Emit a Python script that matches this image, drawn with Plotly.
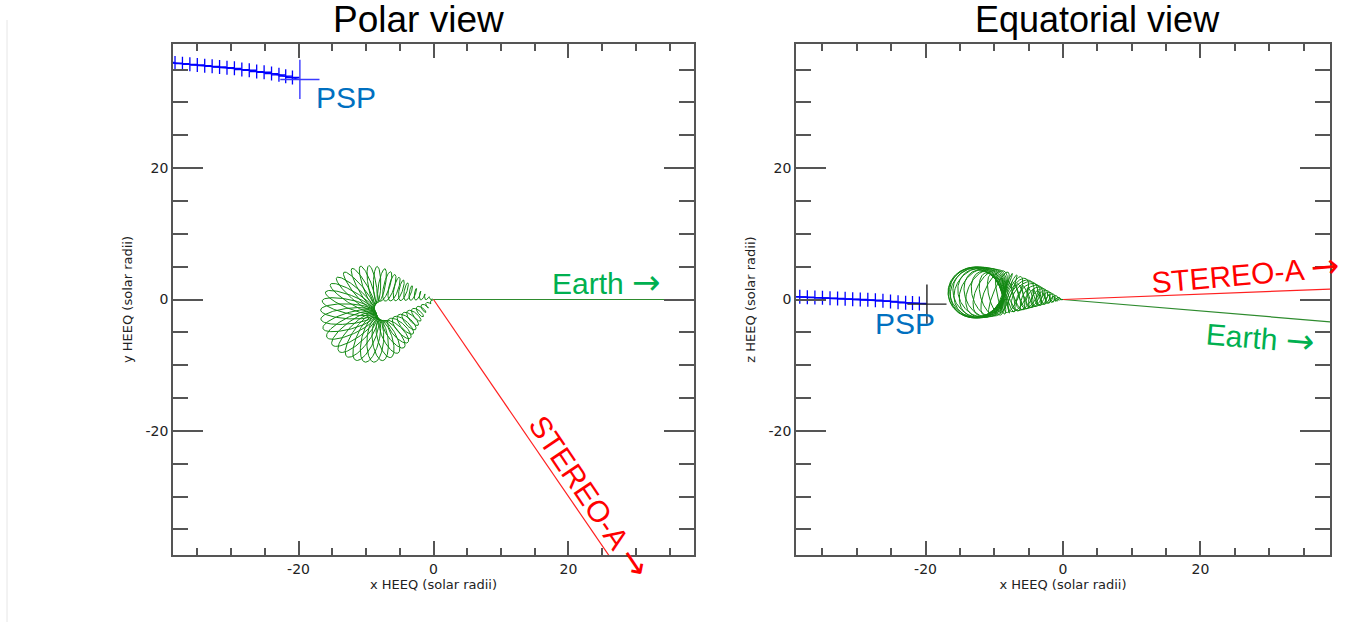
import numpy as np
import plotly.graph_objects as go

# ---------------- data ----------------
# PSP trajectory (HEEQ, solar radii)
psp_x = [-39.4, -38.3, -37.2, -36.1, -35.0, -33.9, -32.8, -31.7, -30.6, -29.5, -28.4,
         -27.3, -26.2, -25.1, -24.0, -22.9, -21.9, -20.9]
psp_y = [36.1, 36.0, 35.9, 35.8, 35.7, 35.6, 35.5, 35.4, 35.3, 35.2, 35.0,
         34.9, 34.7, 34.6, 34.4, 34.2, 34.0, 33.8]
psp_z = [0.45, 0.4, 0.35, 0.3, 0.25, 0.2, 0.15, 0.1, 0.05, 0.0, -0.05,
         -0.1, -0.2, -0.3, -0.4, -0.5, -0.55, -0.6]
psp_now_x = [-19.8]
psp_now_y = [33.5]
psp_now_z = [-0.7]

# spacecraft directions (HEEQ lon / lat, degrees)
sc_names = ["Earth", "STEREO-A"]
sc_lon = [0.0, -56.3]
sc_lat = [-5.0, 1.3]
sc_line_colors = ["#2e8b2e", "#ff2020"]
sc_label_colors = ["#00b050", "#ff0000"]

# croissant (flux-rope) model parameters
cme_lon_deg = 193.0
cme_lat_deg = 4.8
cme_apex_dist = 12.9
cme_arc_radius = 4.2
cme_kappa = 0.32
cme_turns = 45
cme_ring_tilt_deg = 20.0

# axis ranges
x_range_polar = [-38.6, 38.6]
x_range_eq = [-38.85, 38.85]
y_range = [-38.9, 38.9]
tick_vals = [-20, 0, 20]
tick_text = ["-20", "0", "20"]


def croissant_wire(npts=5000):
    lon, lat = np.radians(cme_lon_deg), np.radians(cme_lat_deg)
    u = np.array([np.cos(lat) * np.cos(lon), np.cos(lat) * np.sin(lon), np.sin(lat)])
    v = np.array([-np.sin(lon), np.cos(lon), 0.0])
    w = np.cross(u, v)
    rho = cme_arc_radius
    ca = cme_apex_dist - rho
    delta = np.arcsin(rho / ca)
    lleg = ca * np.cos(delta)
    larc = rho * (np.pi + 2 * delta)
    total = 2 * lleg + larc
    s = np.linspace(0, total, npts)
    pu = np.zeros(npts); pv = np.zeros(npts); tu = np.zeros(npts); tv = np.zeros(npts)
    for i, si in enumerate(s):
        if si <= lleg:
            pu[i] = si * np.cos(delta); pv[i] = si * np.sin(delta)
            tu[i] = np.cos(delta); tv[i] = np.sin(delta)
        elif si <= lleg + larc:
            ang = np.pi / 2 + delta - (si - lleg) / rho
            pu[i] = ca + rho * np.cos(ang); pv[i] = rho * np.sin(ang)
            tu[i] = np.sin(ang); tv[i] = -np.cos(ang)
        else:
            d = total - si
            pu[i] = d * np.cos(delta); pv[i] = -d * np.sin(delta)
            tu[i] = -np.cos(delta); tv[i] = np.sin(delta)
    r = np.hypot(pu, pv)
    a = cme_kappa * r
    phi = 2 * np.pi * cme_turns * s / total
    nu, nv = -tv, tu
    b = np.radians(cme_ring_tilt_deg)
    c1 = a * np.cos(phi)
    c2 = a * np.sin(phi)
    # ring basis: e1 = n (in plane), e2 = cos(b) w - sin(b) t
    P = (np.outer(pu + c1 * nu - c2 * np.sin(b) * tu, u)
         + np.outer(pv + c1 * nv - c2 * np.sin(b) * tv, v)
         + np.outer(c2 * np.cos(b), w))
    return P[:, 0], P[:, 1], P[:, 2]


cx, cy, cz = croissant_wire()

# ---------------- figure ----------------
W, H = 1360, 628


def px(xr):
    return xr / W


def py(yr):
    return 1 - yr / H


dom_polar = [px(173), px(694)]
dom_eq = [px(796), px(1330)]
dom_y = [py(555), py(44)]

fig = go.Figure()

AX = "#555555"
TF = dict(family="DejaVu Sans", size=14, color="#222222")
TITF = dict(family="DejaVu Sans", size=13, color="#222222")

# croissant: polar view (x-y) and equatorial view (x-z)
fig.add_trace(go.Scatter(x=cx, y=cy, mode="lines", line=dict(color="#118811", width=1),
                         xaxis="x", yaxis="y", hoverinfo="skip"))
fig.add_trace(go.Scatter(x=cx, y=cz, mode="lines", line=dict(color="#118811", width=1),
                         xaxis="x2", yaxis="y2", hoverinfo="skip"))

# spacecraft direction lines
for name, lo, la, lc in zip(sc_names, sc_lon, sc_lat, sc_line_colors):
    lo_r, la_r = np.radians(lo), np.radians(la)
    L = 100.0
    ex = L * np.cos(la_r) * np.cos(lo_r)
    ey = L * np.cos(la_r) * np.sin(lo_r)
    ez = L * np.sin(la_r)
    fig.add_trace(go.Scatter(x=[0, ex], y=[0, ey], mode="lines", line=dict(color=lc, width=1.2),
                             xaxis="x", yaxis="y", hoverinfo="skip"))
    fig.add_trace(go.Scatter(x=[0, ex], y=[0, ez], mode="lines", line=dict(color=lc, width=1.2),
                             xaxis="x2", yaxis="y2", hoverinfo="skip"))

# PSP trajectory
for xa, ya, yy, yn, nc in [("x", "y", psp_y, psp_now_y, "#3a3aff"),
                           ("x2", "y2", psp_z, psp_now_z, "#222222")]:
    fig.add_trace(go.Scatter(x=psp_x + psp_now_x, y=yy + yn, mode="lines",
                             line=dict(color="#0000ff", width=1.2),
                             xaxis=xa, yaxis=ya, hoverinfo="skip"))
    fig.add_trace(go.Scatter(x=psp_x, y=yy, mode="markers",
                             marker=dict(symbol="cross-thin", size=10, color="#0000ff",
                                         line=dict(color="#0000ff", width=1.3)),
                             xaxis=xa, yaxis=ya, hoverinfo="skip"))
    fig.add_trace(go.Scatter(x=psp_now_x, y=yn, mode="markers",
                             marker=dict(symbol="cross-thin", size=28, color=nc,
                                         line=dict(color=nc, width=1.4)),
                             xaxis=xa, yaxis=ya, hoverinfo="skip"))


def xaxis_cfg(dom, rng, anchor):
    return dict(domain=dom, range=rng, anchor=anchor, tickmode="array", tickvals=tick_vals,
                ticktext=tick_text, ticks="inside", ticklen=14, tickwidth=1.5, tickcolor=AX,
                showline=True, linecolor=AX, linewidth=1.5, mirror="ticks",
                showgrid=False, zeroline=False, tickfont=TF,
                minor=dict(tickmode="linear", tick0=0, dtick=5, ticks="inside", ticklen=7,
                           tickwidth=1.5, tickcolor=AX, showgrid=False),
                title=dict(text="x HEEQ (solar radii)", font=TITF, standoff=0))


def yaxis_cfg(rng, anchor, title):
    return dict(domain=dom_y, range=rng, anchor=anchor, tickmode="array", tickvals=tick_vals,
                ticktext=tick_text, ticks="inside", ticklen=30, tickwidth=1.5, tickcolor=AX,
                showline=True, linecolor=AX, linewidth=1.5, mirror="ticks",
                showgrid=False, zeroline=False, tickfont=TF,
                minor=dict(tickmode="linear", tick0=0, dtick=5, ticks="inside", ticklen=15,
                           tickwidth=1.5, tickcolor=AX, showgrid=False),
                title=dict(text=title, font=TITF, standoff=10))


LAB = "Liberation Sans, Arial, sans-serif"
ARROW = "<span style='font-family:DejaVu Sans;font-size:34px'>\u2192</span>"
annotations = [
    dict(text="Polar view", x=px(418), y=py(19), xref="paper", yref="paper",
         xanchor="center", yanchor="middle", showarrow=False,
         font=dict(family=LAB, size=37, color="#000000")),
    dict(text="Equatorial view", x=px(1097), y=py(19), xref="paper", yref="paper",
         xanchor="center", yanchor="middle", showarrow=False,
         font=dict(family=LAB, size=36, color="#000000")),
    # polar view labels
    dict(text="PSP", x=-12.9, y=30.8, xref="x", yref="y", showarrow=False,
         font=dict(family=LAB, size=30, color="#0070c0")),
    dict(text="Earth " + ARROW, x=25.6, y=2.7, xref="x", yref="y", showarrow=False,
         font=dict(family=LAB, size=30, color=sc_label_colors[0])),
    dict(text="STEREO-A " + ARROW, x=23.2, y=-29.9, xref="x", yref="y", showarrow=False,
         textangle=56, font=dict(family=LAB, size=30, color=sc_label_colors[1])),
    # equatorial view labels
    dict(text="PSP", x=-23.0, y=-3.6, xref="x2", yref="y2", showarrow=False,
         font=dict(family=LAB, size=30, color="#0070c0")),
    dict(text="STEREO-A " + ARROW, x=26.6, y=4.0, xref="x2", yref="y2", showarrow=False,
         textangle=-5, font=dict(family=LAB, size=30, color=sc_label_colors[1])),
    dict(text="Earth " + ARROW, x=28.8, y=-5.7, xref="x2", yref="y2", showarrow=False,
         textangle=5, font=dict(family=LAB, size=30, color=sc_label_colors[0])),
]

fig.update_layout(
    width=W, height=H, autosize=False,
    margin=dict(l=0, r=0, t=0, b=0),
    paper_bgcolor="white", plot_bgcolor="white",
    showlegend=False,
    xaxis=xaxis_cfg(dom_polar, x_range_polar, "y"),
    yaxis=yaxis_cfg(y_range, "x", "y HEEQ (solar radii)"),
    xaxis2=xaxis_cfg(dom_eq, x_range_eq, "y2"),
    yaxis2=yaxis_cfg(y_range, "x2", "z HEEQ (solar radii)"),
    annotations=annotations,
    shapes=[dict(type="line", xref="paper", yref="paper", x0=px(7), x1=px(7),
                 y0=py(622), y1=py(20), line=dict(color="#e6e6e6", width=1))],
)

fig.write_html("out.html", config={"displayModeBar": False},
               post_script="document.body.style.margin='0px';")
